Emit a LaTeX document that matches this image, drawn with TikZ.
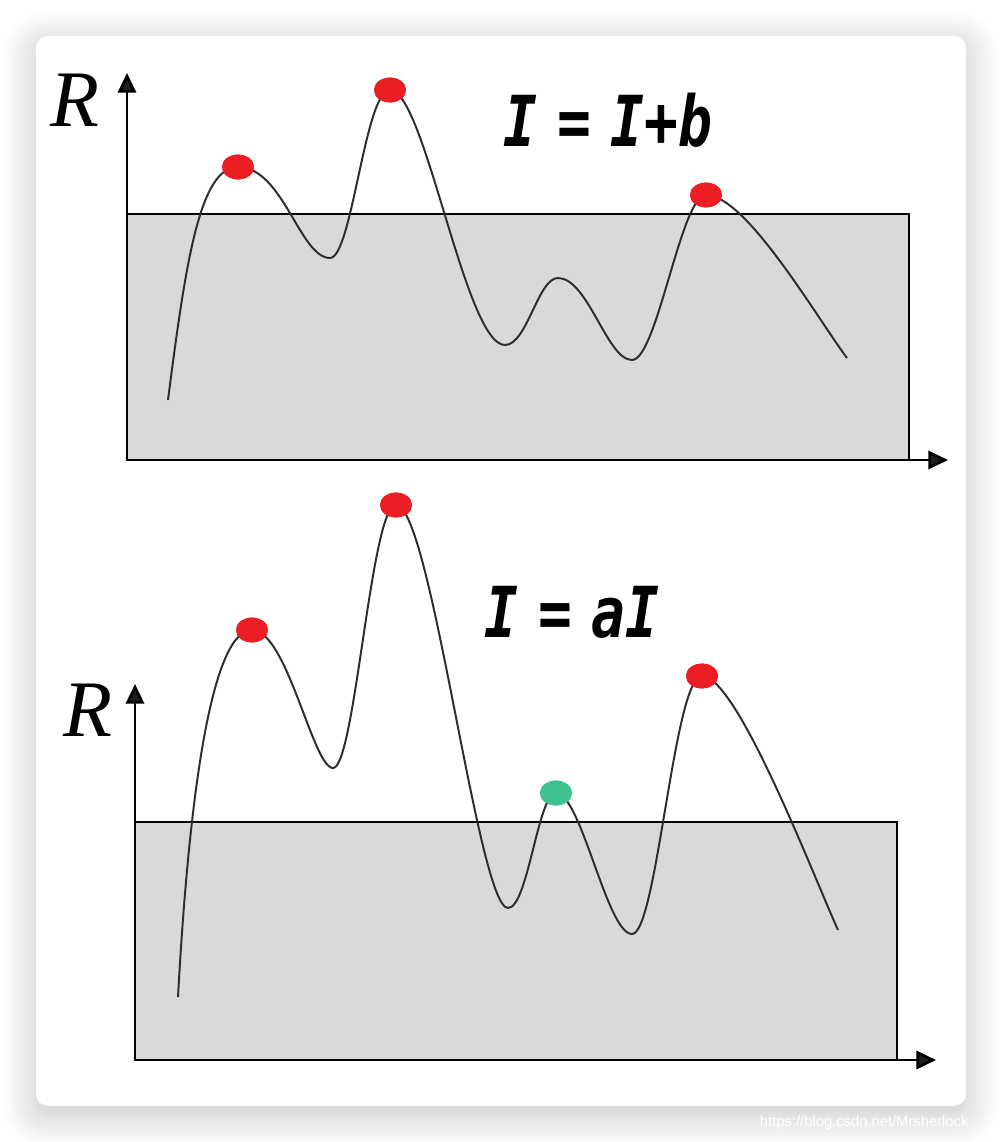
\documentclass[tikz,border=0pt]{standalone}
\usepackage{fontspec}
\usepackage{graphicx}
\usepackage{tikz}
\usetikzlibrary{arrows.meta,positioning,shapes.geometric,shadows.blur}
\newfontfamily\formulafont{DejaVu Sans Mono}
\newfontfamily\labelfont{Liberation Serif}
\newfontfamily\markfont{Liberation Sans}
\definecolor{PeakRed}{RGB}{235, 30, 36}
\definecolor{PeakGreen}{RGB}{62, 194, 143}
\definecolor{BandGray}{RGB}{217, 217, 217}
\definecolor{CurveGray}{RGB}{45, 45, 45}

\begin{document}
\begin{tikzpicture}[x=0.025cm, y=0.025cm,
    axis/.style={line width=2pt, -{Triangle[length=14pt, width=13pt]}},
    band/.style={fill=BandGray, draw=black, line width=1.6pt},
    wave/.style={CurveGray, line width=1.4pt},
    peak/.style={ellipse, fill=PeakRed, minimum width=0.8cm, minimum height=0.62cm, inner sep=0pt},
    minor/.style={peak, fill=PeakGreen},
    axislabel/.style={font=\labelfont\fontsize{57}{62}\selectfont\itshape},
    formula/.style={font=\formulafont\fontsize{50}{56}\selectfont\bfseries\itshape}
]
\useasboundingbox (0,0) rectangle (1002,-1142);
\clip (0,0) rectangle (1002,-1142);
% card
\fill[white, rounded corners=0.3cm,
    blur shadow={shadow xshift=0pt, shadow yshift=-6pt, shadow blur radius=24pt,
                 shadow blur steps=24, shadow opacity=24}]
    (36,-36) rectangle (966,-1106);

% upper panel
\coordinate (o1) at (127,-460);
\coordinate (y1) at (127,-73);
\coordinate (x1) at (948,-460);
\draw[band] (o1) rectangle (909,-214);
\node[peak] (t1) at (238,-167) {};
\node[peak] (t2) at (390,-90) {};
\node[peak] (t3) at (706,-195) {};
\draw[wave] (168,-400) .. controls +(18,140) and +(-38,0) .. (t1.center)
    .. controls +(45,0) and +(-30,0) .. (330,-258)
    .. controls +(22,0) and +(-25,0) .. (t2.center)
    .. controls +(35,0) and +(-40,0) .. (505,-345)
    .. controls +(22,0) and +(-20,0) .. (558,-278)
    .. controls +(30,0) and +(-25,0) .. (632,-360)
    .. controls +(25,0) and +(-25,0) .. (t3.center)
    .. controls +(40,0) and +(-30,40) .. (847,-358);
\node[peak] at (t1) {};
\node[peak] at (t2) {};
\node[peak] at (t3) {};
\draw[axis] (o1) -- (y1);
\draw[axis] (o1) -- (x1);
\node[axislabel] (r1) at (75,-100) {R};
\node[formula] (f1) at (608,-120) {\scalebox{0.8}[1]{I\hspace{-0.25em} = \hspace{-0.25em}I+b}};

% lower panel
\coordinate (o2) at (135,-1060);
\coordinate (y2) at (135,-684);
\coordinate (x2) at (936,-1060);
\draw[band] (o2) rectangle (897,-822);
\node[peak] (b1) at (252,-630) {};
\node[peak] (b2) at (396,-505) {};
\node[minor] (b3) at (556,-793) {};
\node[peak] (b4) at (702,-676) {};
\draw[wave] (178,-997) .. controls +(12,220) and +(-38,0) .. (b1.center)
    .. controls +(35,0) and +(-20,0) .. (333,-768)
    .. controls +(22,0) and +(-25,0) .. (b2.center)
    .. controls +(35,0) and +(-30,0) .. (508,-908)
    .. controls +(20,0) and +(-18,0) .. (b3.center)
    .. controls +(25,0) and +(-25,0) .. (632,-934)
    .. controls +(25,0) and +(-28,0) .. (b4.center)
    .. controls +(35,0) and +(-25,55) .. (838,-930);
\node[peak] at (b1) {};
\node[peak] at (b2) {};
\node[minor] at (b3) {};
\node[peak] at (b4) {};
\draw[axis] (o2) -- (y2);
\draw[axis] (o2) -- (x2);
\node[axislabel] (r2) at (88,-710) {R};
\node[formula] (f2) at (572,-612) {\scalebox{0.8}[1]{I\hspace{-0.25em} = \hspace{-0.25em}aI}};

% watermark
\node[anchor=west, text=white, font=\markfont\fontsize{10.5}{12}\selectfont] (mark) at (755,-1123) {https://blog.csdn.net/Mrsherlock};
\end{tikzpicture}
\end{document}
